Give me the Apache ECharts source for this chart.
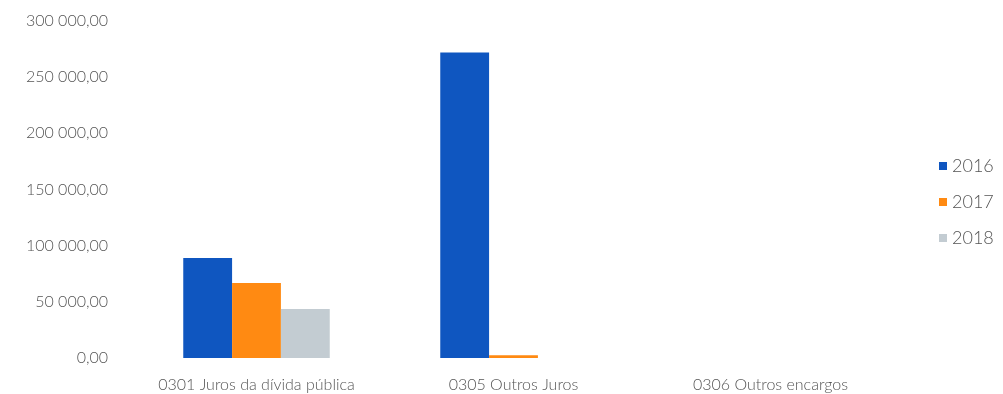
<!DOCTYPE html>
<html>
<head>
<meta charset="utf-8">
<script src="https://cdn.jsdelivr.net/npm/echarts@6/dist/echarts.min.js"></script>
<style>
  html, body { margin: 0; padding: 0; background: #fff; }
  #chart { width: 1003px; height: 394px; }
</style>
</head>
<body>
<div id="chart"></div>
<script>
var categories = ['0301 Juros da dívida pública', '0305 Outros Juros', '0306 Outros encargos']
var seriesNames = ['2016', '2017', '2018']
var values2016 = [89000, 272000, null]
var values2017 = [66800, 2500, null]
var values2018 = [43600, null, null]
var colors = ['#0f56c0', '#ff8a12', '#c3ccd2']

// formato pt: "300 000,00"
function fmt(v) {
  var s = Math.round(v).toString().replace(/\B(?=(\d{3})+(?!\d))/g, ' ')
  return s + ',00'
}

var chart = echarts.init(document.getElementById('chart'))
var textCol = '#555'
var font = 'Lato'

var option = {
  backgroundColor: '#fff',
  animation: false,
  color: colors,
  grid: { left: 128, right: 104, top: 21, bottom: 36 },
  legend: {
    orient: 'vertical',
    left: 934,
    top: 152,
    itemWidth: 8,
    itemHeight: 8,
    itemGap: 18,
    icon: 'rect',
    textStyle: { color: textCol, fontSize: 18, fontFamily: font, fontWeight: 300 },
    data: seriesNames
  },
  xAxis: {
    type: 'category',
    data: categories,
    axisLine: { show: false },
    axisTick: { show: false },
    axisLabel: { color: textCol, fontSize: 16, fontFamily: font, fontWeight: 300, margin: 19, interval: 0 }
  },
  yAxis: {
    type: 'value',
    min: 0,
    max: 300000,
    interval: 50000,
    splitLine: { show: false },
    axisLine: { show: false },
    axisTick: { show: false },
    axisLabel: { color: textCol, fontSize: 16, fontFamily: font, fontWeight: 300, margin: 20, formatter: fmt }
  },
  series: [
    { name: seriesNames[0], type: 'bar', data: values2016, barGap: 0, barCategoryGap: '43%' },
    { name: seriesNames[1], type: 'bar', data: values2017, barGap: 0, barCategoryGap: '43%' },
    { name: seriesNames[2], type: 'bar', data: values2018, barGap: 0, barCategoryGap: '43%' }
  ]
}
chart.setOption(option)
</script>
</body>
</html>
